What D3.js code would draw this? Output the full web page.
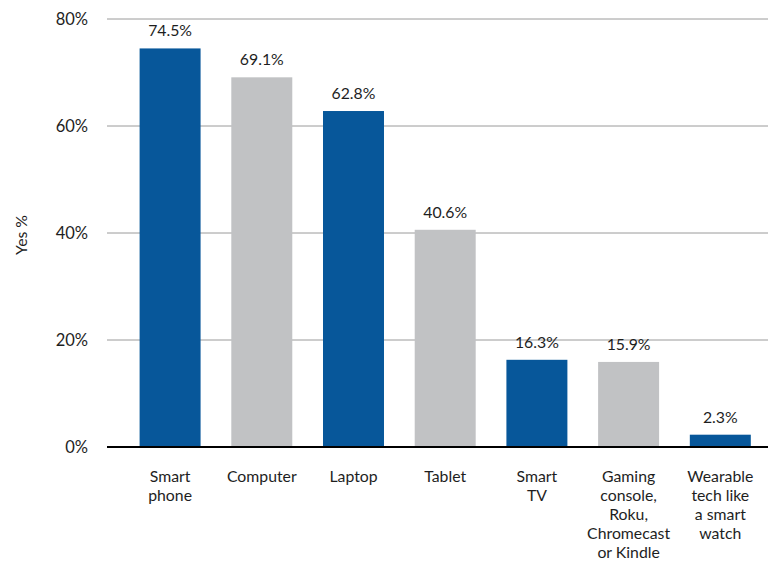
<!DOCTYPE html>
<html>
<head>
<meta charset="utf-8">
<script src="https://cdn.jsdelivr.net/npm/d3@7/dist/d3.min.js"></script>
<style>
  html, body { margin: 0; padding: 0; background: #fff; }
  svg { display: block; font-family: Lato, "Open Sans", sans-serif; }
</style>
</head>
<body>
<svg id="chart" width="770" height="561"></svg>
<script>
// Device ownership: share answering "yes"
const categories = [
  ["Smart", "phone"],
  ["Computer"],
  ["Laptop"],
  ["Tablet"],
  ["Smart", "TV"],
  ["Gaming", "console,", "Roku,", "Chromecast", "or Kindle"],
  ["Wearable", "tech like", "a smart", "watch"]
];
const yesShare = [74.5, 69.1, 62.8, 40.6, 16.3, 15.9, 2.3];
const yTicks = [0, 20, 40, 60, 80];
const yTitle = "Yes %";

const svg = d3.select("#chart");
const plotLeft = 107, plotRight = 768;
const yTop = 19, yBottom = 447;
const fontSize = 15.8, lineStep = 19;

const keys = categories.map((c, i) => i);
const x = d3.scaleBand()
  .domain(keys)
  .range([139.6, 750.8])
  .paddingInner(0.335)
  .paddingOuter(0);

const y = d3.scaleLinear().domain([0, 80]).range([yBottom, yTop]);

const blue = "#07579a", grey = "#c1c2c4", ink = "#1e1e1e";

// gridlines
svg.append("g")
  .selectAll("line")
  .data(yTicks.filter(t => t > 0))
  .join("line")
  .attr("x1", plotLeft).attr("x2", plotRight)
  .attr("y1", d => y(d)).attr("y2", d => y(d))
  .attr("stroke", "#9a9a9a").attr("stroke-width", 1);

// y axis labels
const yAxis = d3.axisLeft(y).tickValues(yTicks).tickFormat(d => d + "%").tickSize(0).tickPadding(0);
const yg = svg.append("g").attr("transform", `translate(${plotLeft - 19},0)`).call(yAxis);
yg.select(".domain").remove();
yg.selectAll("text")
  .attr("font-family", "Lato, sans-serif")
  .attr("font-size", fontSize + 0.7)
  .attr("fill", ink);

// y title
svg.append("text")
  .attr("transform", `translate(27,235) rotate(-90)`)
  .attr("text-anchor", "middle")
  .attr("font-size", fontSize)
  .attr("fill", ink)
  .text(yTitle);

// bars
svg.append("g")
  .selectAll("rect")
  .data(yesShare)
  .join("rect")
  .attr("x", (d, i) => x(i))
  .attr("width", x.bandwidth())
  .attr("y", d => y(d))
  .attr("height", d => y(0) - y(d))
  .attr("fill", (d, i) => i % 2 === 0 ? blue : grey);

// value labels
svg.append("g")
  .selectAll("text")
  .data(yesShare)
  .join("text")
  .attr("x", (d, i) => x(i) + x.bandwidth() / 2)
  .attr("y", d => y(d) - 12)
  .attr("text-anchor", "middle")
  .attr("font-size", fontSize)
  .attr("fill", ink)
  .text(d => d.toFixed(1) + "%");

// baseline
svg.append("line")
  .attr("x1", plotLeft).attr("x2", plotRight)
  .attr("y1", y(0)).attr("y2", y(0))
  .attr("stroke", "#000").attr("stroke-width", 2);

// category labels, one text per line
const catG = svg.append("g")
  .selectAll("g")
  .data(categories)
  .join("g")
  .attr("transform", (d, i) => `translate(${x(i) + x.bandwidth() / 2},482)`);
catG.selectAll("text")
  .data(d => d)
  .join("text")
  .attr("y", (d, i) => i * lineStep)
  .attr("text-anchor", "middle")
  .attr("font-size", fontSize)
  .attr("fill", ink)
  .text(d => d);
</script>
</body>
</html>
